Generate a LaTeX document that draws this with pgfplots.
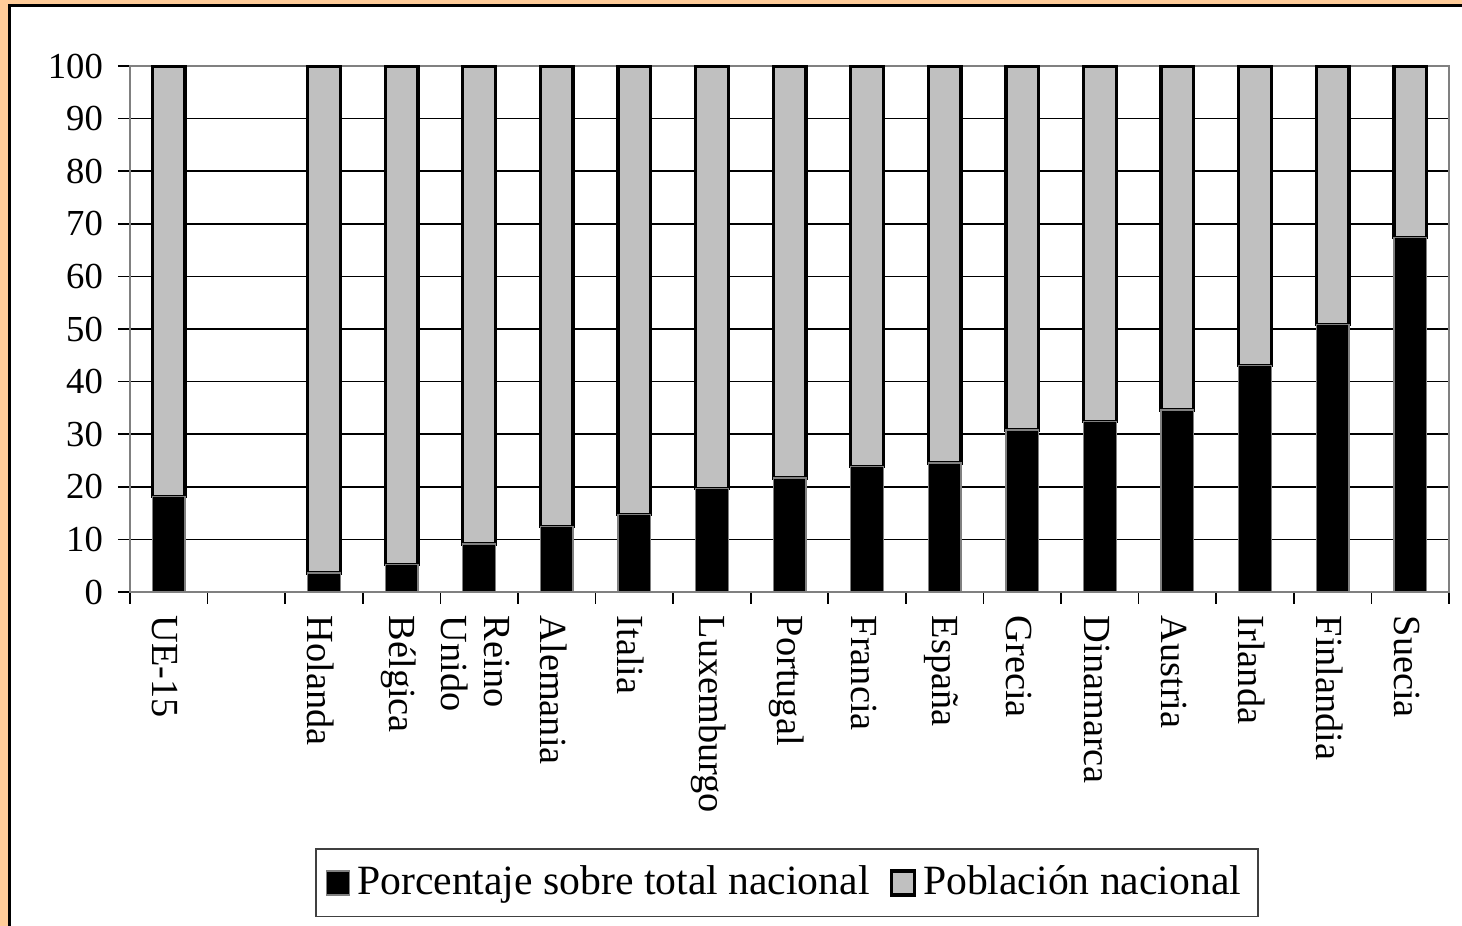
\documentclass[border=0pt]{standalone}
\usepackage{fontspec}
\setmainfont{Liberation Serif}
\usepackage{pgfplots}
\pgfplotsset{compat=1.18}
\definecolor{marco}{RGB}{255,204,153}
\definecolor{grisbar}{RGB}{192,192,192}
\definecolor{grislinea}{RGB}{128,128,128}

\begin{document}
\begin{tikzpicture}
\useasboundingbox (0,0) rectangle (438.6pt,277.8pt);
\fill[marco] (0,0) rectangle (438.6pt,277.8pt);
\begin{scope}
\clip (0,0) rectangle (438.6pt,277.8pt);
\draw[black, line width=1pt, fill=white] (2.8pt,-5pt) rectangle (445pt,276.2pt);
\end{scope}
\begin{axis}[
    at={(39pt,100.2pt)}, anchor=south west,
    width=395.7pt, height=157.8pt, scale only axis,
    ybar stacked, bar width=9.8pt,
    xmin=-0.5, xmax=16.5, ymin=0, ymax=100,
    xtick={-0.5,0.5,...,16.5},
    x tick label as interval,
    xticklabels={UE-15,,Holanda,B\'elgica,{Reino\\Unido},Alemania,Italia,Luxemburgo,Portugal,Francia,Espa\~na,Grecia,Dinamarca,Austria,Irlanda,Finlandia,Suecia},
    ytick={0,10,...,100},
    /pgf/number format/assume math mode=true,
    tick pos=left,
    tick align=outside, major tick length=3.6pt,
    tick style={black, line width=0.5pt},
    ymajorgrids, grid style={black, line width=0.45pt},
    axis line style={grislinea, line width=0.8pt},
    yticklabel style={font=\fontsize{11}{13}\selectfont, xshift=-1pt},
    xticklabel style={font=\fontsize{11.5}{13}\selectfont, rotate=-90, anchor=west, align=left, yshift=-1pt},
    legend style={at={(axis description cs:0.498,-0.553)}, anchor=center,
        legend columns=2, draw=black!75, line width=0.5pt,
        font=\fontsize{12.5}{14}\selectfont, inner xsep=3pt, inner ysep=3pt,
        /tikz/every even column/.append style={column sep=4pt}},
    legend image code/.code={\draw[#1] (0pt,-3.6pt) rectangle (7pt,3.6pt);},
]
\addplot[fill=black, draw=grislinea, line width=0.4pt] coordinates {
    (0,18.1) (2,3.6) (3,5.2) (4,9.1) (5,12.4) (6,14.7) (7,19.7) (8,21.7)
    (9,23.9) (10,24.5) (11,30.8) (12,32.4) (13,34.6) (14,43.0) (15,50.8) (16,67.4)
};
\addplot[fill=grisbar, draw=black, line width=1pt] coordinates {
    (0,81.9) (2,96.4) (3,94.8) (4,90.9) (5,87.6) (6,85.3) (7,80.3) (8,78.3)
    (9,76.1) (10,75.5) (11,69.2) (12,67.6) (13,65.4) (14,57.0) (15,49.2) (16,32.6)
};
\legend{Porcentaje sobre total nacional, Poblaci\'on nacional}
\end{axis}
\end{tikzpicture}
\end{document}
